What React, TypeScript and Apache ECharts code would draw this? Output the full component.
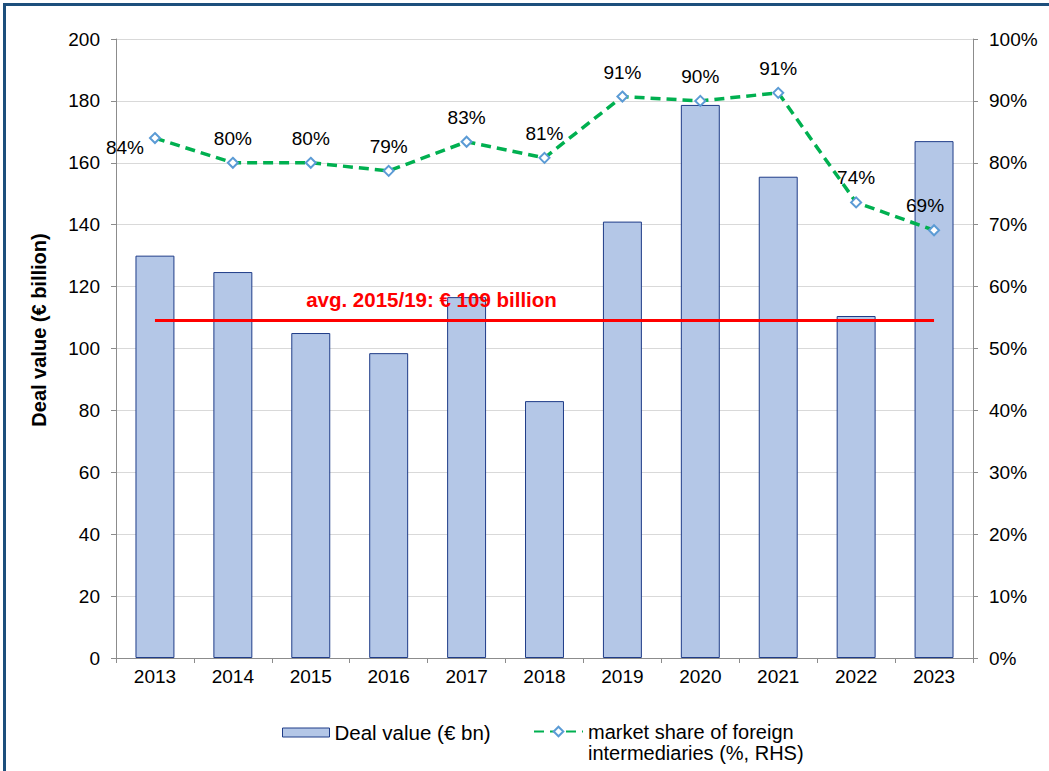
import React, { useEffect, useRef } from "react";
import * as echarts from "echarts";

const years = ["2013", "2014", "2015", "2016", "2017", "2018", "2019", "2020", "2021", "2022", "2023"];
const dealValue = [130, 124.7, 105, 98.5, 116.6, 83, 141, 178.7, 155.5, 110.5, 167];
const marketShare = [84.0, 80.0, 80.0, 78.7, 83.4, 80.8, 90.7, 90.0, 91.3, 73.6, 69.1];
const avgValue = 109;
const avgLabel = "avg. 2015/19: € 109 billion";
const barName = "Deal value (€ bn)";
const lineName = "market share of foreign\nintermediaries (%, RHS)";
const leftAxisName = "Deal value (€ billion)";

const FONT = "'Liberation Sans', Arial, Helvetica, sans-serif";

export default function App() {
  const ref = useRef<HTMLDivElement>(null);

  useEffect(() => {
    if (!ref.current) return;
    const chart = echarts.init(ref.current, undefined, { renderer: "svg" });

    const lineData = marketShare.map((v, i) => {
      if (i === 0) return { value: v, label: { position: "left", distance: 5, offset: [0, 9] } };
      if (i === years.length - 1) return { value: v, label: { offset: [-9, 0] } };
      return { value: v };
    });

    const option: any = {
      animation: false,
      backgroundColor: "#ffffff",
      textStyle: { fontFamily: FONT },
      grid: { left: 116, right: 76, top: 39, bottom: 113, containLabel: false },
      legend: [
        {
          left: 282,
          top: 722,
          padding: 0,
          icon: "rect",
          itemWidth: 47,
          itemHeight: 9,
          data: [barName],
          itemStyle: { color: "#b4c7e7", borderColor: "#1f3c88", borderWidth: 1 },
          textStyle: { fontSize: 20.5, color: "#000", fontFamily: FONT },
          selectedMode: false,
        },
        {
          left: 533,
          top: 700,
          padding: 0,
          itemWidth: 49,
          itemHeight: 12,
          data: [lineName],
          formatter: (name: string) => "\n" + name,
          textStyle: {
            fontSize: 20,
            color: "#000",
            fontFamily: FONT,
            lineHeight: 21,
          },
          selectedMode: false,
        },
      ],
      xAxis: {
        type: "category",
        data: years,
        boundaryGap: true,
        axisLine: { show: true, lineStyle: { color: "#8c8c8c", width: 1 } },
        axisTick: { show: true, length: 5, lineStyle: { color: "#8c8c8c" } },
        axisLabel: { fontSize: 19, color: "#000", margin: 9, fontFamily: FONT },
      },
      yAxis: [
        {
          type: "value",
          min: 0,
          max: 200,
          interval: 20,
          axisLine: { show: true, lineStyle: { color: "#8c8c8c", width: 1 } },
          axisTick: { show: true, length: 5, lineStyle: { color: "#8c8c8c" } },
          axisLabel: { fontSize: 19, color: "#000", margin: 16, fontFamily: FONT },
          splitLine: { show: true, lineStyle: { color: "#d9d9d9", width: 1 } },
        },
        {
          type: "value",
          min: 0,
          max: 100,
          interval: 10,
          position: "right",
          axisLine: { show: true, lineStyle: { color: "#8c8c8c", width: 1 } },
          axisTick: { show: true, length: 5, lineStyle: { color: "#8c8c8c" } },
          axisLabel: { fontSize: 19, color: "#000", margin: 16, fontFamily: FONT, formatter: "{value}%" },
          splitLine: { show: false },
        },
      ],
      series: [
        {
          name: barName,
          type: "bar",
          data: dealValue,
          barWidth: "50%",
          yAxisIndex: 0,
          itemStyle: { color: "#b4c7e7", borderColor: "#1f3c88", borderWidth: 1 },
          markLine: {
            silent: true,
            symbol: ["none", "none"],
            lineStyle: { color: "#ff0000", width: 3, type: "solid" },
            label: {
              show: true,
              position: "insideMiddleTop",
              distance: 11,
              formatter: avgLabel,
              color: "#ff0000",
              fontWeight: "bold",
              fontSize: 20.5,
              fontFamily: FONT,
              padding: [0, 226, 0, 0],
            },
            data: [[{ coord: [years[0], avgValue] }, { coord: [years[years.length - 1], avgValue] }]],
          },
        },
        {
          name: lineName,
          type: "line",
          data: lineData,
          yAxisIndex: 1,
          symbol: "emptyDiamond",
          symbolSize: 10,
          z: 5,
          itemStyle: { color: "#5b9bd5", borderWidth: 1 },
          lineStyle: { color: "#00b050", width: 3.5, type: [10, 6] },
          label: {
            show: true,
            position: "top",
            distance: 9,
            fontSize: 19,
            color: "#000",
            fontFamily: FONT,
            formatter: (p: any) => Math.round(p.value) + "%",
          },
        },
      ],
      graphic: [
        {
          type: "rect",
          silent: true,
          z: -10,
          shape: { x: 4.5, y: 4.5, width: 1200, height: 1000 },
          style: { fill: "none", stroke: "#1d4f7c", lineWidth: 3 },
        },
        {
          type: "text",
          x: 39,
          y: 330,
          rotation: Math.PI / 2,
          silent: true,
          style: {
            text: leftAxisName,
            font: `bold 20px ${FONT}`,
            fill: "#000",
            align: "center",
            verticalAlign: "middle",
          },
        },
      ],
    };

    chart.setOption(option);
    return () => chart.dispose();
  }, []);

  return (
    <div
      ref={ref}
      style={{ position: "absolute", left: 0, top: 0, width: 1049, height: 771 }}
    />
  );
}
